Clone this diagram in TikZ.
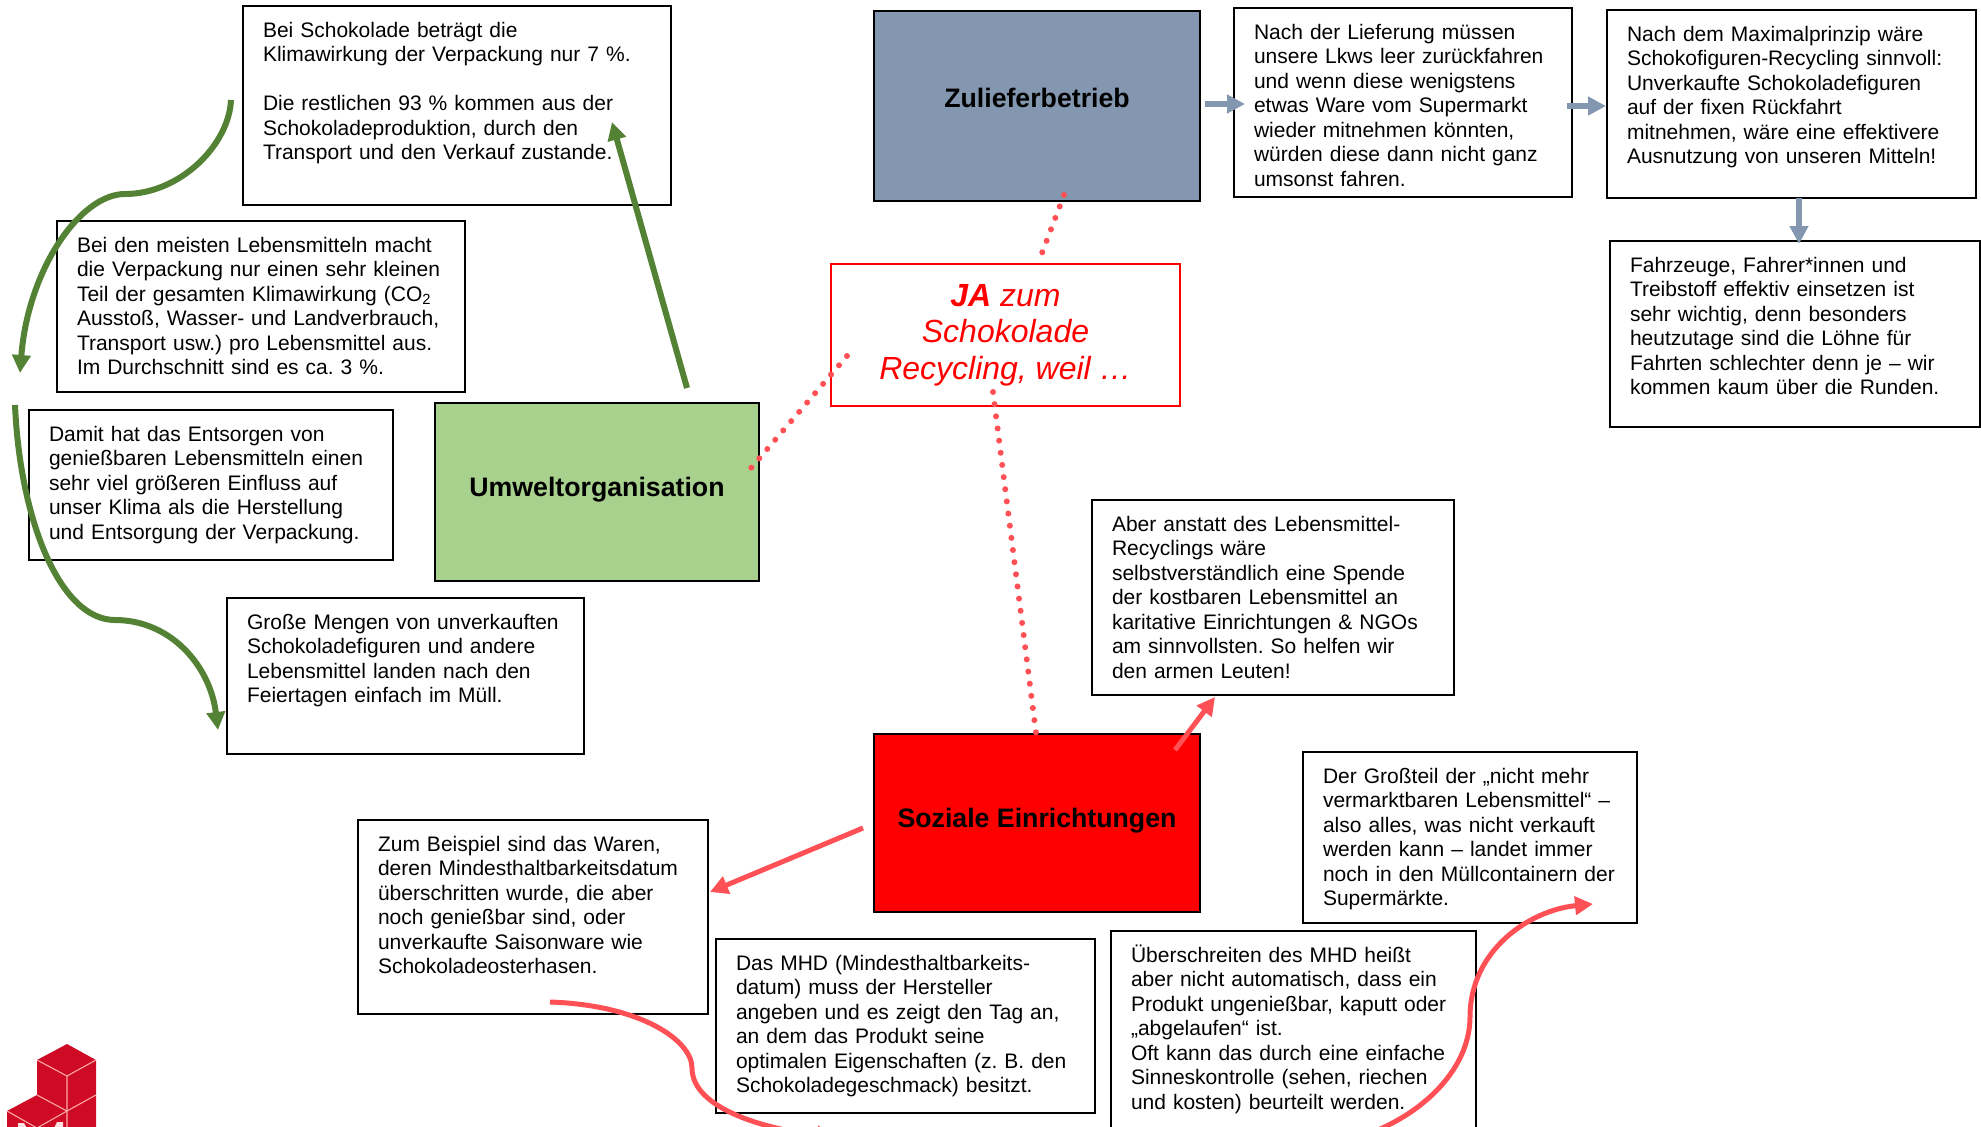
\documentclass[tikz,border=0pt]{standalone}
\usepackage{fontspec}
\setmainfont{Liberation Sans}
\usepackage{tikz}
\usepackage{xcolor}
\usetikzlibrary{arrows.meta}
\definecolor{zulieferblue}{HTML}{8497B0}
\definecolor{umweltgreen}{HTML}{A9D18E}
\definecolor{arrowgreen}{HTML}{548235}
\definecolor{arrowred}{HTML}{FF5056}
\definecolor{logored}{HTML}{CE0A24}
\tikzset{txtbox/.style={draw=black, line width=2.8pt, fill=white, anchor=north west, outer sep=0pt,
inner xsep=20pt, inner ysep=15pt, text height=16pt, align=left,
font=\fontsize{21}{24.5}\selectfont\frenchspacing},
rolebox/.style={draw=black, line width=2.8pt, anchor=north west, outer sep=0pt, inner sep=0pt, align=center,
font=\fontsize{26.7}{30}\selectfont\bfseries},
greenarrow/.style={draw=arrowgreen, line width=6pt, -{Triangle[width=18pt,length=18pt]}},
redarrow/.style={draw=arrowred, line width=5pt, -{Triangle[width=18pt,length=18pt]}},
greyarrow/.style={draw=zulieferblue, line width=5.5pt, -{Triangle[width=18pt,length=18pt]}},
dotline/.style={draw=arrowred, line width=6pt, line cap=round, dash pattern=on 0pt off 12.25pt},
logoline/.style={draw=red!35!white, line width=1.1pt}}

\begin{document}
\begin{tikzpicture}[x=1pt, y=-1pt]
	\useasboundingbox (0,0) rectangle (1981,1127);
	\clip (0,0) rectangle (1981,1127);

	% logo
	\fill[logored] (67,1044) -- (96,1060) -- (96,1128) -- (7,1128) -- (7,1111) -- (37,1095) -- (37,1060) -- cycle;
	\draw[logoline] (37,1060) -- (67,1076) -- (96,1060) (67,1076) -- (67,1128) (37,1095) -- (67,1111) -- (96,1095) (7,1111) -- (37,1128) -- (67,1111);
	\fill[red!12!white] (18,1123) -- (24,1123) -- (27,1128) -- (18,1128) -- cycle (57,1122) -- (63,1122) -- (63,1128) -- (54,1128) -- cycle;

	% the three actors and the middle box
	\node[rolebox, fill=umweltgreen, minimum width=324pt, minimum height=178pt, text depth=10pt] (umwelt) at (435,403) {Umweltorganisation};
	\node[rolebox, fill=zulieferblue, minimum width=326pt, minimum height=190pt, text depth=17pt] (zulieferer) at (874,11) {Zulieferbetrieb};
	\node[rolebox, fill=red, minimum width=326pt, minimum height=178pt, text depth=10pt] (sozial) at (874,734) {Soziale Einrichtungen};
	\node[draw=red, line width=2.8pt, anchor=north west, outer sep=0pt, inner sep=0pt, align=center, text=red, minimum width=349pt, minimum height=142pt,
		font=\fontsize{32}{36.6}\selectfont\itshape] (ja) at (831,264) {\textbf{JA} zum\\Schokolade\\Recycling, weil\ …};

	% left side
	\node[txtbox, text width=388pt, text depth=153pt] (klima) at (243,6) {Bei Schokolade beträgt die\\Klimawirkung der Verpackung nur 7 \%.\\ \mbox{}\\Die restlichen 93 \% kommen aus der\\Schokoladeproduktion, durch den\\Transport und den Verkauf zustande.};
	\node[txtbox, text width=368pt, text depth=125pt] (anteil) at (57,221) {Bei den meisten Lebensmitteln macht\\die Verpackung nur einen sehr kleinen\\Teil der gesamten Klimawirkung (CO\textsubscript{2}\\Ausstoß, Wasser- und Landverbrauch,\\Transport usw.) pro Lebensmittel aus.\\Im Durchschnitt sind es ca. 3 \%.};
	\node[txtbox, text width=324pt, text depth=104pt] (entsorgen) at (29,410) {Damit hat das Entsorgen von\\genießbaren Lebensmitteln einen\\sehr viel größeren Einfluss auf\\unser Klima als die Herstellung\\und Entsorgung der Verpackung.};
	\node[txtbox, text width=317pt, text depth=110pt] (mengen) at (227,598) {Große Mengen von unverkauften\\Schokoladefiguren und andere\\Lebensmittel landen nach den\\Feiertagen einfach im Müll.};

	% right side
	\node[txtbox, text width=298pt, text depth=143pt] (lieferung) at (1234,8) {Nach der Lieferung müssen\\unsere Lkws leer zurückfahren\\und wenn diese wenigstens\\etwas Ware vom Supermarkt\\wieder mitnehmen könnten,\\würden diese dann nicht ganz\\umsonst fahren.};
	\node[txtbox, text width=329pt, text depth=142pt] (maximal) at (1607,10) {Nach dem Maximalprinzip wäre\\Schokofiguren-Recycling sinnvoll:\\Unverkaufte Schokoladefiguren\\auf der fixen Rückfahrt\\mitnehmen, wäre eine effektivere\\Ausnutzung von unseren Mitteln!};
	\node[txtbox, text width=330pt, text depth=140pt] (fahrzeuge) at (1610,241) {Fahrzeuge, Fahrer*innen und\\Treibstoff effektiv einsetzen ist\\sehr wichtig, denn besonders\\heutzutage sind die Löhne für\\Fahrten schlechter denn je – wir\\kommen kaum über die Runden.};

	% bottom
	\node[txtbox, text width=322pt, text depth=149pt] (spende) at (1092,500) {Aber anstatt des Lebensmittel-\\Recyclings wäre\\selbstverständlich eine Spende\\der kostbaren Lebensmittel an\\karitative Einrichtungen \& NGOs\\am sinnvollsten. So helfen wir\\den armen Leuten!};
	\node[txtbox, text width=294pt, text depth=125pt] (grossteil) at (1303,752) {Der Großteil der „nicht mehr\\vermarktbaren Lebensmittel“ –\\also alles, was nicht verkauft\\werden kann – landet immer\\noch in den Müllcontainern der\\Supermärkte.};
	\node[txtbox, text width=310pt, text depth=148pt] (beispiel) at (358,820) {Zum Beispiel sind das Waren,\\deren Mindesthaltbarkeitsdatum\\überschritten wurde, die aber\\noch genießbar sind, oder\\unverkaufte Saisonware wie\\Schokoladeosterhasen.};
	\node[txtbox, text width=339pt, text depth=128pt] (mhd) at (716,939) {Das MHD (Mindesthaltbarkeits-\\datum) muss der Hersteller\\angeben und es zeigt den Tag an,\\an dem das Produkt seine\\optimalen Eigenschaften (z. B. den\\Schokoladegeschmack) besitzt.};
	\node[txtbox, text width=325pt, text depth=156pt] (ueberschreiten) at (1111,931) {Überschreiten des MHD heißt\\aber nicht automatisch, dass ein\\Produkt ungenießbar, kaputt oder\\„abgelaufen“ ist.\\Oft kann das durch eine einfache\\Sinneskontrolle (sehen, riechen\\und kosten) beurteilt werden.};

	% free ends of the connectors
	\coordinate (umweltTop) at (687,388);
	\coordinate (klimaTip) at (612,122);
	\coordinate (klimaStart) at (231,100);
	\coordinate (klimaMid) at (125,194);
	\coordinate (klimaEnd) at (20,373);
	\coordinate (entsorgenStart) at (15,405);
	\coordinate (entsorgenMid) at (115,620);
	\coordinate (mengenTip) at (218,730);
	\coordinate (zuliefRight) at (1205,104);
	\coordinate (lieferTip) at (1245,104);
	\coordinate (lieferRight) at (1567,106);
	\coordinate (maximalTip) at (1606,106);
	\coordinate (maximalDown) at (1799,198);
	\coordinate (fahrzeugTip) at (1799,244);
	\coordinate (sozialTop) at (1175,750);
	\coordinate (spendeTip) at (1215,697);
	\coordinate (sozialLeft) at (863,828);
	\coordinate (beispielTip) at (710,892);
	\coordinate (beispielStart) at (550,1002);
	\coordinate (beispielMid) at (692,1068);
	\coordinate (mhdTip) at (835,1137);
	\coordinate (ueberStart) at (1350,1140);
	\coordinate (ueberMid) at (1470,1017);
	\coordinate (grossTip) at (1593,904);
	\coordinate (zuliefDot) at (1064,195);
	\coordinate (jaDotTop) at (1042,253);
	\coordinate (jaDotLeft) at (847,356);
	\coordinate (umweltDot) at (751,468);
	\coordinate (jaDotDown) at (993,392);
	\coordinate (sozialDot) at (1036,733);

	\draw[dotline] (zuliefDot) -- (jaDotTop);
	\draw[dotline] (jaDotLeft) -- (umweltDot);
	\draw[dotline] (jaDotDown) -- (sozialDot);

	\draw[greenarrow] (umweltTop) -- (klimaTip);
	\draw[greenarrow] (klimaStart) .. controls (229,145) and (180,194) .. (klimaMid) .. controls (80,194) and (28,270) .. (klimaEnd);
	\draw[greenarrow] (entsorgenStart) .. controls (20,520) and (60,620) .. (entsorgenMid) .. controls (170,620) and (210,665) .. (mengenTip);

	\draw[greyarrow] (zuliefRight) -- (lieferTip);
	\draw[greyarrow] (lieferRight) -- (maximalTip);
	\draw[greyarrow] (maximalDown) -- (fahrzeugTip);

	\draw[redarrow] (sozialTop) -- (spendeTip);
	\draw[redarrow] (sozialLeft) -- (beispielTip);
	\draw[redarrow] (beispielStart) .. controls (640,1005) and (692,1040) .. (beispielMid) .. controls (692,1110) and (770,1130) .. (mhdTip);
	\draw[redarrow] (ueberStart) .. controls (1420,1120) and (1470,1070) .. (ueberMid) .. controls (1470,950) and (1530,910) .. (grossTip);
\end{tikzpicture}
\end{document}
